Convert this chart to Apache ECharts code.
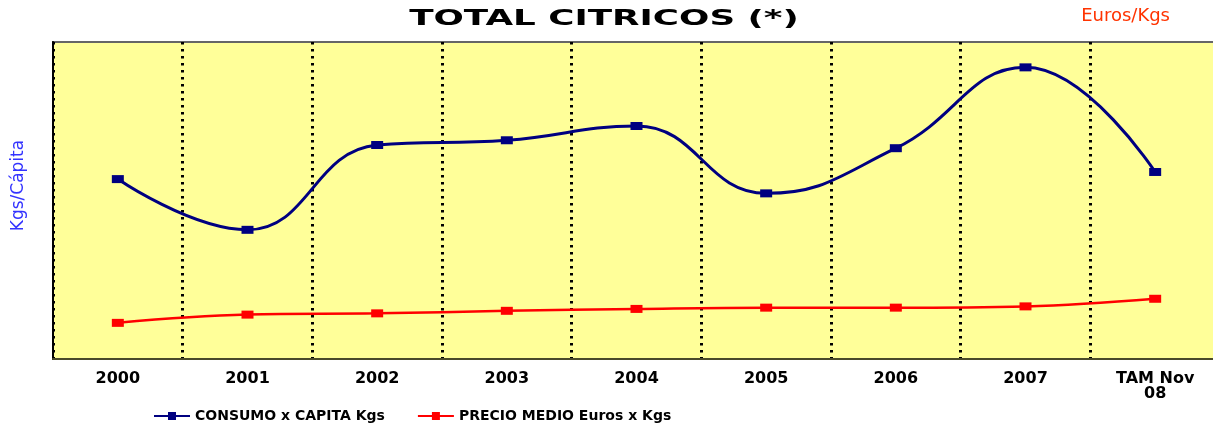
<!DOCTYPE html>
<html>
<head>
<meta charset="utf-8">
<script src="https://cdn.jsdelivr.net/npm/echarts@6/dist/echarts.min.js"></script>
<style>
  html, body { margin: 0; padding: 0; background: #fff; }
  #chart { width: 1213px; height: 426px; }
</style>
</head>
<body>
<div id="chart"></div>
<script>
// data (no scale printed, values estimated)
var years = ['2000', '2001', '2002', '2003', '2004', '2005', '2006', '2007', 'TAM Nov\n08'];
var consumo = [22.7, 16.3, 27.0, 27.6, 29.4, 20.9, 26.6, 36.8, 23.6];
var precio = [0.57, 0.70, 0.72, 0.76, 0.79, 0.81, 0.81, 0.83, 0.95];

var chart = echarts.init(document.getElementById('chart'), null, {renderer: 'canvas'});

var option = {
    animation: false,
    textStyle: {fontFamily: 'DejaVu Sans'},
    // the original title is drawn wide, so it is stretched a bit
    graphic: [{
        type: 'text',
        x: 604,
        y: 20,
        scaleX: 1.7,
        style: {
            text: 'TOTAL CITRICOS (*)',
            fontFamily: 'DejaVu Sans',
            fontWeight: 'bold',
            fontSize: 21,
            fill: '#000',
            align: 'center',
            verticalAlign: 'middle'
        }
    }],
    legend: {
        left: 148,
        top: 404,
        itemWidth: 36,
        itemHeight: 10,
        itemGap: 32,
        textStyle: {fontFamily: 'DejaVu Sans', fontWeight: 'bold', fontSize: 14, color: '#000'},
        data: ['CONSUMO x CAPITA Kgs', 'PRECIO MEDIO Euros x Kgs']
    },
    grid: {
        left: 53,
        top: 42,
        bottom: 67,
        width: 1167,
        show: true,
        backgroundColor: '#FFFF99',
        borderColor: '#666',
        borderWidth: 2,
        outerBoundsMode: 'none'
    },
    xAxis: {
        type: 'category',
        data: years,
        boundaryGap: true,
        axisLine: {lineStyle: {color: '#4a4a2a', width: 2}},
        axisTick: {show: false},
        axisLabel: {
            interval: 0,
            margin: 12,
            fontFamily: 'DejaVu Sans',
            fontWeight: 'bold',
            fontSize: 16,
            lineHeight: 15,
            color: '#000'
        },
        splitLine: {
            show: true,
            interval: 0,
            lineStyle: {color: '#000', width: 3, type: [2.5, 4.5]}
        }
    },
    yAxis: [{
        type: 'value',
        min: 0,
        max: 40,
        name: 'Kgs/Cápita',
        nameLocation: 'middle',
        nameGap: 26,
        nameTextStyle: {color: '#3333FF', fontSize: 17, fontFamily: 'DejaVu Sans', padding: [0, 0, 0, 30]},
        axisLine: {show: true, lineStyle: {color: '#000', width: 2}},
        axisTick: {show: false},
        axisLabel: {show: false},
        splitLine: {show: false}
    }, {
        type: 'value',
        min: 0,
        max: 5,
        position: 'right',
        name: 'Euros/Kgs',
        nameLocation: 'end',
        nameGap: 26,
        nameTextStyle: {color: '#FF3300', fontSize: 18, fontFamily: 'DejaVu Sans', align: 'right', verticalAlign: 'middle', padding: [0, 50, 0, 0]},
        axisLine: {show: false},
        axisTick: {show: false},
        axisLabel: {show: false},
        splitLine: {show: false}
    }],
    series: [{
        name: 'CONSUMO x CAPITA Kgs',
        type: 'line',
        yAxisIndex: 0,
        data: consumo,
        smooth: 0.45,
        symbol: 'rect',
        symbolSize: [12, 8],
        lineStyle: {color: '#000080', width: 3},
        itemStyle: {color: '#000080'}
    }, {
        name: 'PRECIO MEDIO Euros x Kgs',
        type: 'line',
        yAxisIndex: 1,
        data: precio,
        smooth: 0.4,
        symbol: 'rect',
        symbolSize: [12, 8],
        lineStyle: {color: '#FF0000', width: 2.5},
        itemStyle: {color: '#FF0000'}
    }]
};

chart.setOption(option);
</script>
</body>
</html>
